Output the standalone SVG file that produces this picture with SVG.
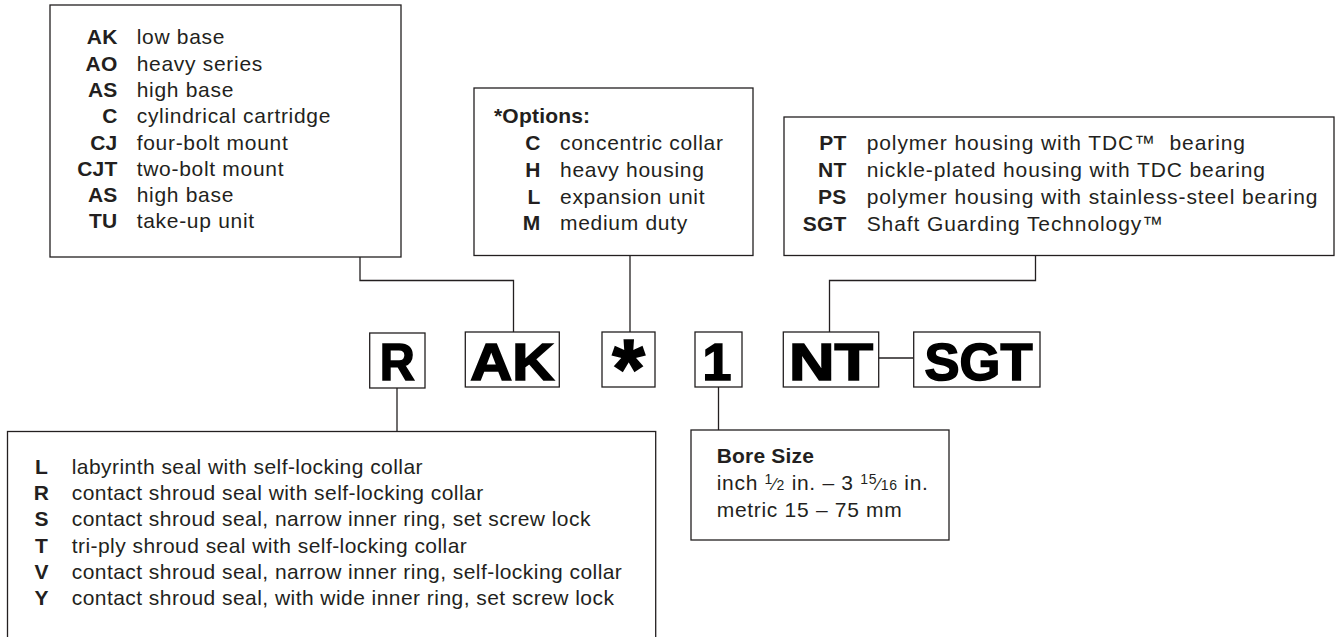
<svg xmlns="http://www.w3.org/2000/svg" width="1341" height="637" viewBox="0 0 1341 637">
<style>
  .box { fill: #fff; stroke: #231f20; stroke-width: 1.3; }
  .conn { fill: none; stroke: #231f20; stroke-width: 1.3; }
  .t { font-family: "Liberation Sans", Arial, sans-serif; font-size: 21px; fill: #231f20; letter-spacing: 0.7px; }
  .b { font-family: "Liberation Sans", Arial, sans-serif; font-size: 21px; font-weight: bold; fill: #231f20; letter-spacing: 0.2px; }
  .e { text-anchor: end; }
  .m { text-anchor: middle; }
  #seal-box .t { letter-spacing: 0.45px; }
  #material-box .t { letter-spacing: 0.9px; }
  .big { font-family: "Liberation Sans", Arial, sans-serif; font-size: 52px; font-weight: bold; fill: #000; stroke: #000; stroke-width: 1.6; text-anchor: middle; }
</style>
<rect width="1341" height="637" fill="#fff"/>

<g id="connectors">
  <polyline class="conn" points="360,257 360,280.5 513.5,280.5 513.5,332"/>
  <polyline class="conn" points="630,255.5 630,332"/>
  <polyline class="conn" points="1035.5,255.5 1035.5,280.5 829.5,280.5 829.5,332"/>
  <polyline class="conn" points="397,388 397,431.5"/>
  <polyline class="conn" points="718.5,387 718.5,430"/>
  <polyline class="conn" points="878.7,358 913.7,358"/>
</g>

<g id="housing-box">
  <rect class="box" x="50" y="5" width="351" height="252"/>
  <text class="b e" x="117.5" y="44.3">AK</text><text class="t" x="136.7" y="44.3">low base</text>
  <text class="b e" x="117.5" y="70.6">AO</text><text class="t" x="136.7" y="70.6">heavy series</text>
  <text class="b e" x="117.5" y="96.9">AS</text><text class="t" x="136.7" y="96.9">high base</text>
  <text class="b e" x="117.5" y="123.2">C</text><text class="t" x="136.7" y="123.2">cylindrical cartridge</text>
  <text class="b e" x="117.5" y="149.5">CJ</text><text class="t" x="136.7" y="149.5">four-bolt mount</text>
  <text class="b e" x="117.5" y="175.8">CJT</text><text class="t" x="136.7" y="175.8">two-bolt mount</text>
  <text class="b e" x="117.5" y="202.1">AS</text><text class="t" x="136.7" y="202.1">high base</text>
  <text class="b e" x="117.5" y="228.4">TU</text><text class="t" x="136.7" y="228.4">take-up unit</text>
</g>

<g id="options-box">
  <rect class="box" x="474" y="88" width="279" height="167.5"/>
  <text class="b" x="494" y="123.3">*Options:</text>
  <text class="b e" x="540.5" y="150">C</text><text class="t" x="560" y="150">concentric collar</text>
  <text class="b e" x="540.5" y="177">H</text><text class="t" x="560" y="177">heavy housing</text>
  <text class="b e" x="540.5" y="203.5">L</text><text class="t" x="560" y="203.5">expansion unit</text>
  <text class="b e" x="540.5" y="230">M</text><text class="t" x="560" y="230">medium duty</text>
</g>

<g id="material-box">
  <rect class="box" x="784" y="117" width="550" height="138.5"/>
  <text class="b e" x="846.5" y="150">PT</text><text class="t" x="866.7" y="150" xml:space="preserve">polymer housing with TDC™  bearing</text>
  <text class="b e" x="846.5" y="177.3">NT</text><text class="t" x="866.7" y="177.3">nickle-plated housing with TDC bearing</text>
  <text class="b e" x="846.5" y="204">PS</text><text class="t" x="866.7" y="204">polymer housing with stainless-steel bearing</text>
  <text class="b e" x="846.5" y="230.7">SGT</text><text class="t" x="866.7" y="230.7">Shaft Guarding Technology™</text>
</g>

<g id="code-R">
  <rect class="box" x="369.7" y="333" width="55.3" height="55"/>
  <text class="big" x="397.3" y="379.5" textLength="35" lengthAdjust="spacingAndGlyphs">R</text>
</g>
<g id="code-AK">
  <rect class="box" x="465.3" y="332" width="94" height="55"/>
  <text class="big" x="512.3" y="379.5" textLength="84" lengthAdjust="spacingAndGlyphs">AK</text>
</g>
<g id="code-star">
  <rect class="box" x="602" y="332" width="53" height="55"/>
  <text class="big" x="628.5" y="398" style="font-size:84px">*</text>
</g>
<g id="code-1">
  <rect class="box" x="695" y="332" width="47" height="55"/>
  <text class="big" x="717" y="379.5">1</text>
</g>
<g id="code-NT">
  <rect class="box" x="783.3" y="332" width="95.4" height="55"/>
  <text class="big" x="831" y="379.5" textLength="84" lengthAdjust="spacingAndGlyphs">NT</text>
</g>
<g id="code-SGT">
  <rect class="box" x="913.7" y="332" width="126.3" height="55"/>
  <text class="big" x="978.5" y="379.5" textLength="108" lengthAdjust="spacingAndGlyphs">SGT</text>
</g>

<g id="seal-box">
  <rect class="box" x="7.5" y="431.5" width="648.2" height="220"/>
  <text class="b m" x="41.5" y="474">L</text><text class="t" x="71.7" y="474">labyrinth seal with self-locking collar</text>
  <text class="b m" x="41.5" y="500.2">R</text><text class="t" x="71.7" y="500.2">contact shroud seal with self-locking collar</text>
  <text class="b m" x="41.5" y="526.4">S</text><text class="t" x="71.7" y="526.4">contact shroud seal, narrow inner ring, set screw lock</text>
  <text class="b m" x="41.5" y="552.6">T</text><text class="t" x="71.7" y="552.6">tri-ply shroud seal with self-locking collar</text>
  <text class="b m" x="41.5" y="578.8">V</text><text class="t" x="71.7" y="578.8">contact shroud seal, narrow inner ring, self-locking collar</text>
  <text class="b m" x="41.5" y="605">Y</text><text class="t" x="71.7" y="605">contact shroud seal, with wide inner ring, set screw lock</text>
</g>

<g id="bore-box">
  <rect class="box" x="691" y="430" width="258" height="110"/>
  <text class="b" x="716.7" y="463.3">Bore Size</text>
  <text class="t" x="716.7" y="490">inch <tspan font-size="14" dy="-6">1</tspan><tspan font-size="17" dy="6">⁄</tspan><tspan font-size="14">2</tspan> in. – 3 <tspan font-size="14" dy="-6">15</tspan><tspan font-size="17" dy="6">⁄</tspan><tspan font-size="14">16</tspan> in.</text>
  <text class="t" x="716.7" y="516.7">metric 15 – 75 mm</text>
</g>
</svg>
